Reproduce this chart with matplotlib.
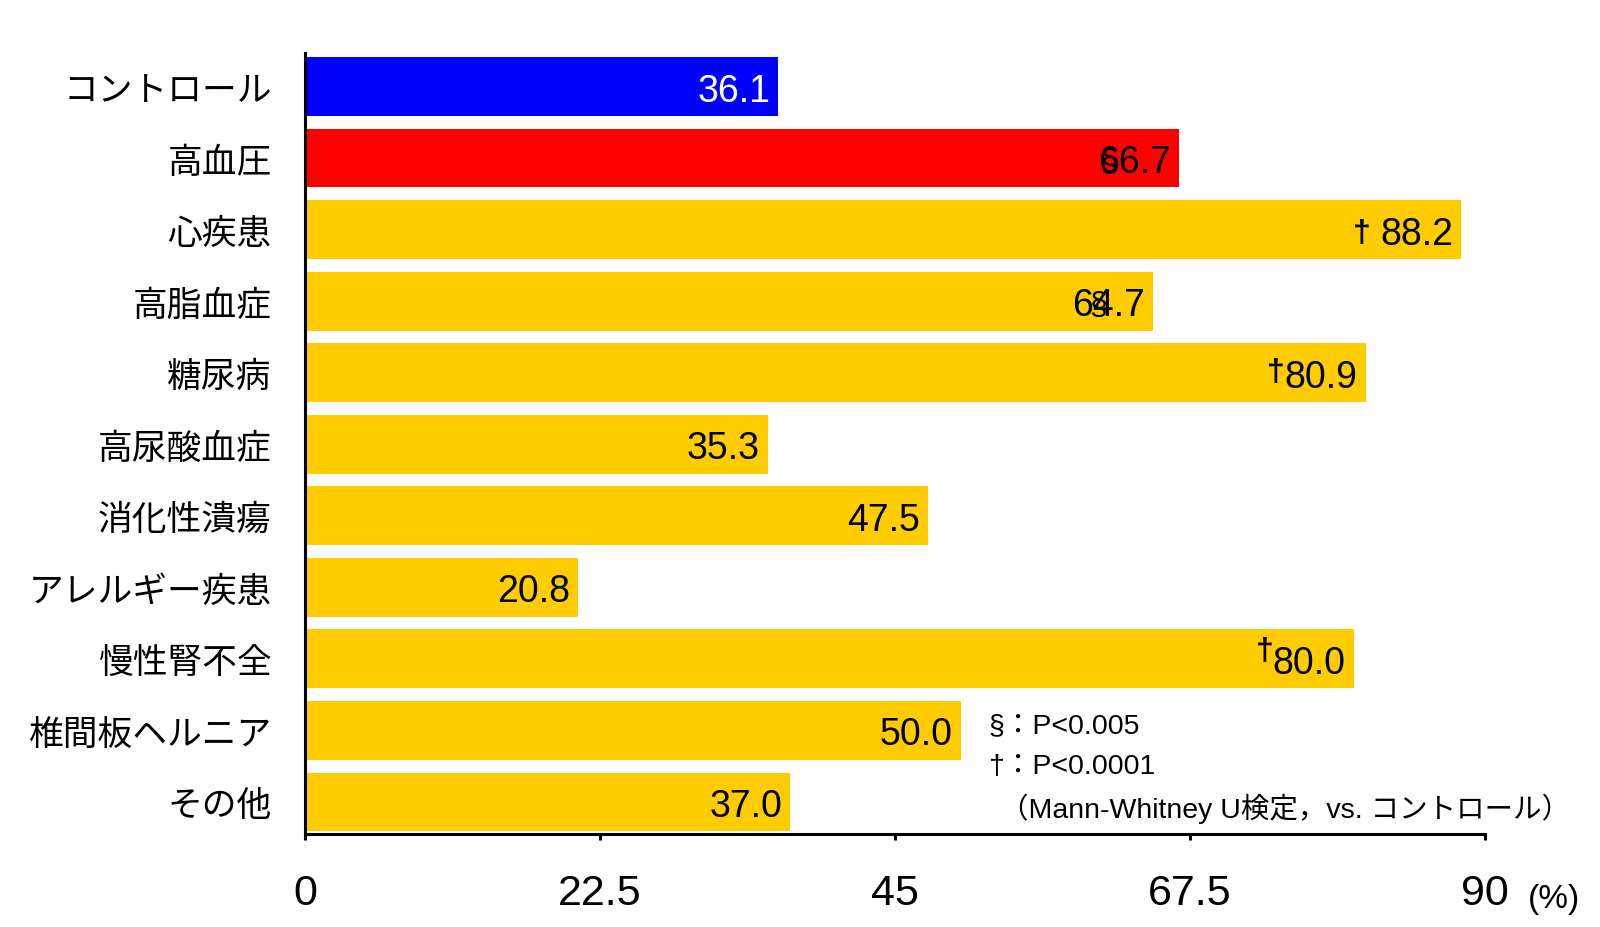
import matplotlib
matplotlib.use('Agg')
import matplotlib.pyplot as plt

# データ
categories = ['コントロール', '高血圧', '心疾患', '高脂血症', '糖尿病', '高尿酸血症',
              '消化性潰瘍', 'アレルギー疾患', '慢性腎不全', '椎間板ヘルニア', 'その他']
values = [36.1, 66.7, 88.2, 64.7, 80.9, 35.3, 47.5, 20.8, 80.0, 50.0, 37.0]
marks = ['', '§', '†', '§', '†', '', '', '', '†', '', '']
bar_colors = ['#0000FF', '#FF0000'] + ['#FFCC00'] * 9
x_ticks = [0, 22.5, 45, 67.5, 90]
x_ticklabels = ['0', '22.5', '45', '67.5', '90']
notes = ['§：P<0.005', '†：P<0.0001', '（Mann-Whitney U検定，vs. コントロール）']

# 記号の位置（バー端からのピクセルオフセット）
mark_offsets = {1: (-70, 0), 3: (-55, 0), 2: (-100, 0), 4: (-90, 4), 8: (-89, 11)}

plt.rcParams['font.family'] = ['Liberation Sans', 'Noto Sans CJK JP']

fig = plt.figure(figsize=(16, 9.28), dpi=100)
ax = fig.add_axes([0.1906, 0.1002, 0.7375, 0.8416])

y = list(range(len(categories)))
ax.barh(y, values, height=0.82, color=bar_colors)

for i, v in enumerate(values):
    tc = 'white' if i == 0 else 'black'
    ax.annotate(f'{v:.1f}', xy=(v, i), xytext=(-8, 0), textcoords='offset pixels',
                ha='right', va='center_baseline', fontsize=27, color=tc)
    if marks[i]:
        dx, dy = mark_offsets[i]
        ax.annotate(marks[i], xy=(v, i), xytext=(dx, dy), textcoords='offset pixels',
                    ha='center', va='center_baseline', fontsize=23, color='black',
                    fontweight='bold' if marks[i] == '†' else 'normal')

ax.set_xlim(0, 90)
ax.set_ylim(10.45, -0.47)
ax.set_yticks(y)
ax.set_yticklabels(categories, fontsize=25, family=['Noto Sans CJK JP'])
ax.set_xticks(x_ticks)
ax.set_xticklabels(x_ticklabels, fontsize=31)

ax.spines['top'].set_visible(False)
ax.spines['right'].set_visible(False)
ax.spines['left'].set_linewidth(2.2)
ax.spines['bottom'].set_linewidth(2.2)
ax.tick_params(axis='y', length=0, pad=24)
ax.tick_params(axis='x', length=4, width=2.2, pad=24)

fig.text(1528 / 1600, 1 - 900 / 928, '(%)', fontsize=24, va='center', ha='left')

note_pos = [(988, 726), (988, 767), (1000, 809)]
for (nx, ny), t in zip(note_pos, notes):
    fig.text(nx / 1600, 1 - ny / 928, t, fontsize=20.5, va='center', ha='left')

fig.savefig('out.png', dpi=100)
